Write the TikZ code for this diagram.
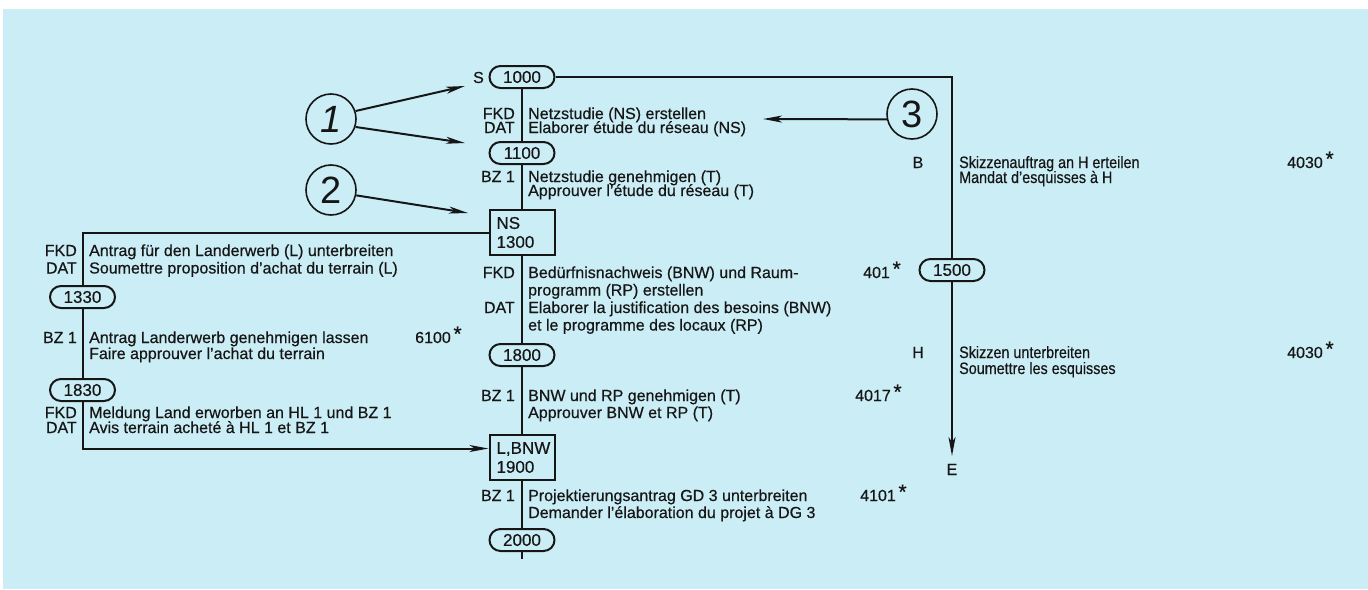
\documentclass[tikz,border=0pt]{standalone}
\usepackage{fontspec}
\setmainfont{Liberation Sans}[FakeBold=0.5]
\newfontfamily\circfont{Liberation Sans}
\newfontfamily\condfont{Liberation Sans}[FakeBold=0.5,FakeStretch=0.87]
\usetikzlibrary{arrows.meta,calc}
\definecolor{bgc}{RGB}{203,238,246}
\definecolor{ink}{RGB}{22,22,22}
\newcommand\stern{\,\raisebox{2pt}{\fontsize{21}{21}\selectfont *}}
\begin{document}
\begin{tikzpicture}[x=1pt,y=-1pt,
  every node/.style={inner sep=0pt, text=ink, font=\fontsize{16}{17}\selectfont},
  lin/.style={draw=ink, line width=2pt},
  pill/.style={draw=ink, line width=2pt, rounded corners=11pt, minimum width=65pt, minimum height=22pt, font=\fontsize{17}{17}\selectfont},
  boxnode/.style={draw=ink, line width=2pt, minimum width=65pt, minimum height=45pt, align=left, text width=51pt, inner xsep=7pt, font=\fontsize{17}{19}\selectfont},
  lab/.style={anchor=base east},
  txt/.style={anchor=base west},
  ctxt/.style={anchor=base west, font=\condfont\fontsize{16.5}{17}\selectfont},
  mid/.style={anchor=base},
  num/.style={anchor=base west},
  circ/.style={draw=ink, line width=1.6pt, circle, minimum size=50pt, font=\circfont\fontsize{38}{38}\selectfont},
  arr/.style={draw=ink, line width=2pt, -{Stealth[length=19pt,width=7pt,inset=5pt]}}
]
\useasboundingbox (0,0) rectangle (1368,589);
\fill[white] (0,0) rectangle (1368,589);
\fill[bgc] (3,9) rectangle (1368,589);

% ---------- main column ----------
\node[pill] (p1000) at (522,77) {1000};
\node[lab] (lS) at (484,83) {S};
\node[lab] (l1a) at (515,119) {FKD};
\node[lab] (l1b) at (515,133) {DAT};
\node[txt] (t1a) at (528,119) {Netzstudie (NS) erstellen};
\node[txt] (t1b) at (528,133) {Elaborer étude du réseau (NS)};
\node[pill] (p1100) at (522,153) {1100};
\node[lab] (l2a) at (515,182) {BZ 1};
\node[txt] (t2a) at (528,182) {Netzstudie genehmigen (T)};
\node[txt] (t2b) at (528,196) {Approuver l’étude du réseau (T)};
\node[boxnode] (bNS) at (522,232.5) {NS\\1300};
\node[lab] (l3a) at (515,278) {FKD};
\node[lab] (l3b) at (515,313) {DAT};
\node[txt] (t3a) at (528,278) {Bedürfnisnachweis (BNW) und Raum-};
\node[txt] (t3b) at (528,295.5) {programm (RP) erstellen};
\node[txt] (t3c) at (528,313) {Elaborer la justification des besoins (BNW)};
\node[txt] (t3d) at (528,330.5) {et le programme des locaux (RP)};
\node[num] (n401) at (863,278) {401\stern};
\node[pill] (p1800) at (522,355) {1800};
\node[lab] (l4a) at (515,401) {BZ 1};
\node[txt] (t4a) at (528,401) {BNW und RP genehmigen (T)};
\node[txt] (t4b) at (528,418) {Approuver BNW et RP (T)};
\node[num] (n4017) at (855,401) {4017\stern};
\node[boxnode] (b1900) at (522,457.5) {L,BNW\\1900};
\node[lab] (l5a) at (515,501) {BZ 1};
\node[txt] (t5a) at (528,501) {Projektierungsantrag GD 3 unterbreiten};
\node[txt] (t5b) at (528,518) {Demander l’élaboration du projet à DG 3};
\node[num] (n4101) at (860,501) {4101\stern};
\node[pill] (p2000) at (522,540) {2000};
\coordinate (endmain) at (522,559);

% ---------- left column ----------
\node[lab] (l6a) at (77,256) {FKD};
\node[lab] (l6b) at (77,273.5) {DAT};
\node[txt] (t6a) at (89,256) {Antrag für den Landerwerb (L) unterbreiten};
\node[txt] (t6b) at (89,273.5) {Soumettre proposition d’achat du terrain (L)};
\node[pill] (p1330) at (82.5,297) {1330};
\node[lab] (l7a) at (77,343) {BZ 1};
\node[txt] (t7a) at (89,343) {Antrag Landerwerb genehmigen lassen};
\node[txt] (t7b) at (89,359) {Faire approuver l’achat du terrain};
\node[num] (n6100) at (415,343) {6100\stern};
\node[pill] (p1830) at (82.5,390) {1830};
\node[lab] (l8a) at (77,418) {FKD};
\node[lab] (l8b) at (77,433) {DAT};
\node[txt] (t8a) at (89,418) {Meldung Land erworben an HL 1 und BZ 1};
\node[txt] (t8b) at (89,433) {Avis terrain acheté à HL 1 et BZ 1};

% ---------- right column ----------
\node[mid] (lB) at (918,168) {B};
\node[ctxt] (t9a) at (959,168) {Skizzenauftrag an H erteilen};
\node[ctxt] (t9b) at (959,183) {Mandat d’esquisses à H};
\node[num] (n4030a) at (1287,168) {4030\stern};
\node[pill] (p1500) at (952,270) {1500};
\node[mid] (lH) at (918,358) {H};
\node[ctxt] (t10a) at (959,358) {Skizzen unterbreiten};
\node[ctxt] (t10b) at (959,374) {Soumettre les esquisses};
\node[num] (n4030b) at (1287,358) {4030\stern};
\node[mid] (lE) at (952,475) {E};
\coordinate (Etip) at (952,456);

% ---------- circles ----------
\node[circ] (c1) at (331,119) {\itshape 1};
\node[circ] (c2) at (331,190) {2};
\node[circ] (c3) at (912,114) {3};
\coordinate (a1) at (465,86);
\coordinate (a2) at (465,143);
\coordinate (a3) at (468,213);
\coordinate (a4) at (763,119);

% ---------- connectors ----------
\draw[lin] (p1000.south) -- (p1100.north);
\draw[lin] (p1100.south) -- (bNS.north);
\draw[lin] (bNS.south) -- (p1800.north);
\draw[lin] (p1800.south) -- (b1900.north);
\draw[lin] (b1900.south) -- (p2000.north);
\draw[lin] (p2000.south) -- (endmain);
\draw[lin] (bNS.west) -| (p1330.north);
\draw[lin] (p1330.south) -- (p1830.north);
\draw[arr] (p1830.south) |- ([yshift=9pt]b1900.west);
\draw[lin] (p1000.east) -| (p1500.north);
\draw[arr] (p1500.south) -- (Etip);
\draw[arr] (c1.18) -- (a1);
\draw[arr] (c1.-18) -- (a2);
\draw[arr] (c2.-12) -- (a3);
\draw[arr] (c3.192) -- (a4);
\end{tikzpicture}
\end{document}
